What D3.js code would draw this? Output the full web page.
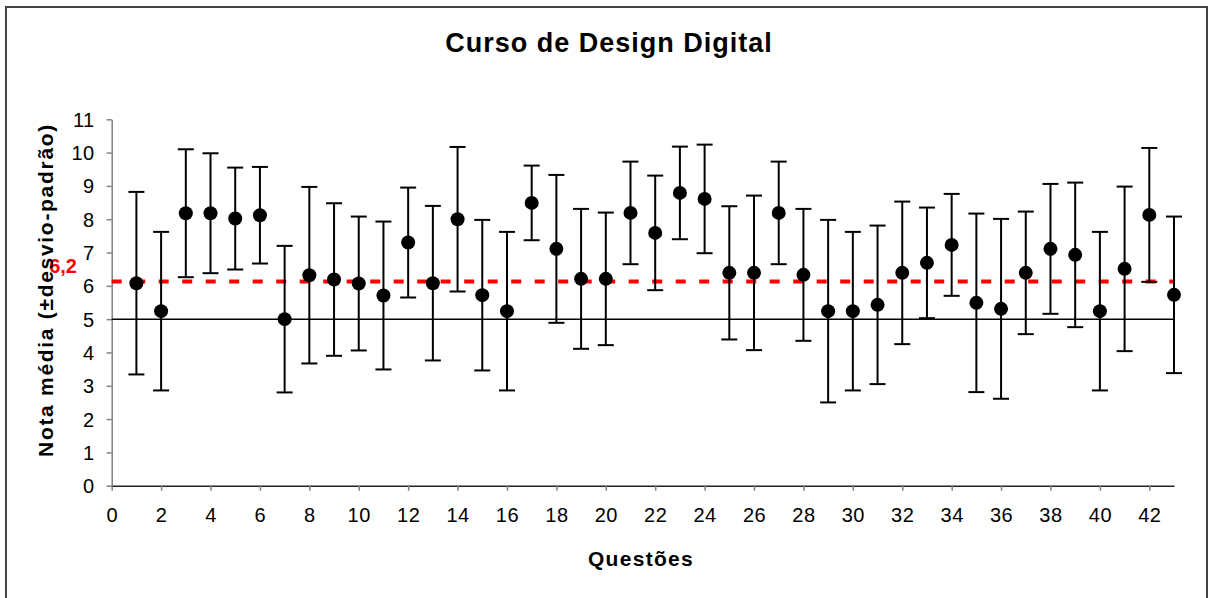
<!DOCTYPE html>
<html>
<head>
<meta charset="utf-8">
<script src="https://cdn.jsdelivr.net/npm/d3@7"></script>
<style>
body{margin:0;background:#fff;}
svg{display:block;font-family:"Liberation Sans",Arial,sans-serif;}
</style>
</head>
<body>
<svg width="1213" height="598"></svg>
<script>
// questões 1..43, nota média e desvio-padrão
var questoes=d3.range(1,44);
var media=[6.08,5.24,8.18,8.18,8.02,8.12,5.0,6.32,6.19,6.07,5.71,7.3,
  6.08,8.0,5.72,5.24,8.49,7.11,6.21,6.21,8.19,7.59,8.79,8.61,6.39,6.39,8.19,6.33,
  5.24,5.24,5.43,6.39,6.69,7.23,5.49,5.31,6.39,7.11,6.93,5.24,6.51,8.13,5.73];
var desvio=[2.74,2.38,1.92,1.8,1.53,1.45,2.2,2.65,2.29,2.01,2.22,1.65,
  2.32,2.17,2.26,2.38,1.12,2.22,2.1,1.99,1.54,1.72,1.39,1.63,2.0,2.32,1.54,1.98,
  2.74,2.38,2.38,2.14,1.66,1.53,2.68,2.7,1.84,1.95,2.17,2.38,2.47,2.01,2.35];
var xticks=d3.range(0,44,2);
var yticks=d3.range(0,12);
var mediaGeral=6.13, mediaLabel="6,2";
var notaMinima=5;

var svg=d3.select("svg");
var plotLeft=111.7,plotRight=1174,plotTop=119.3,plotBottom=485.7;

// moldura
svg.append("rect")
  .attr("x",6).attr("y",7).attr("width",1201).attr("height",600)
  .attr("fill","none").attr("stroke","#444").attr("stroke-width",2);

var scalex=d3.scaleLinear().domain([0,43]).range([plotLeft,plotRight]);
var scaley=d3.scaleLinear().domain([0,11]).range([plotBottom,plotTop]);

var xaxis=d3.axisBottom(scalex).tickValues(xticks).tickSize(5).tickSizeOuter(0).tickPadding(17);
var yaxis=d3.axisLeft(scaley).tickValues(yticks).tickSize(5).tickSizeOuter(0).tickPadding(12);

var gy=svg.append("g").attr("transform","translate("+plotLeft+",0)").call(yaxis);
gy.select(".domain").attr("stroke","#808080").attr("stroke-width",1.5);
gy.selectAll(".tick line").attr("stroke","#808080").attr("stroke-width",1.5);
gy.selectAll("text").style("font-size","20px").style("letter-spacing","0.5px").attr("fill","#000").attr("dy","0.35em");

var gx=svg.append("g").attr("transform","translate(0,"+plotBottom+")").call(xaxis);
gx.select(".domain").attr("stroke","#222").attr("stroke-width",1.5);
gx.selectAll(".tick line").attr("stroke","#808080").attr("stroke-width",1.5);
gx.selectAll("text").style("font-size","20px").style("letter-spacing","0.5px").attr("fill","#000");

// linha da nota 5
svg.append("line")
  .attr("x1",scalex(0)).attr("x2",scalex(43))
  .attr("y1",scaley(notaMinima)).attr("y2",scaley(notaMinima))
  .attr("stroke","#000").attr("stroke-width",1.5);

// média geral
svg.append("line")
  .attr("x1",scalex(0)).attr("x2",scalex(43))
  .attr("y1",scaley(mediaGeral)).attr("y2",scaley(mediaGeral))
  .attr("stroke","#ff0000").attr("stroke-width",4)
  .attr("stroke-dasharray","10,13.5");

svg.append("text")
  .attr("x",77).attr("y",273)
  .attr("text-anchor","end")
  .style("font-size","20px").style("font-weight","bold")
  .attr("fill","#ff0000")
  .text(mediaLabel);

var dados=questoes.map(function(q,i){return {q:q,m:media[i],s:desvio[i]};});

var barras=svg.append("g").selectAll("g").data(dados).enter().append("g");

barras.append("line")
  .attr("x1",d=>scalex(d.q)).attr("x2",d=>scalex(d.q))
  .attr("y1",d=>scaley(d.m+d.s)).attr("y2",d=>scaley(d.m-d.s))
  .attr("stroke","#000").attr("stroke-width",2);

barras.append("line")
  .attr("x1",d=>scalex(d.q)-8).attr("x2",d=>scalex(d.q)+8)
  .attr("y1",d=>scaley(d.m+d.s)).attr("y2",d=>scaley(d.m+d.s))
  .attr("stroke","#000").attr("stroke-width",2);

barras.append("line")
  .attr("x1",d=>scalex(d.q)-8).attr("x2",d=>scalex(d.q)+8)
  .attr("y1",d=>scaley(d.m-d.s)).attr("y2",d=>scaley(d.m-d.s))
  .attr("stroke","#000").attr("stroke-width",2);

barras.append("circle")
  .attr("cx",d=>scalex(d.q)).attr("cy",d=>scaley(d.m))
  .attr("r",7).attr("fill","#000");

// títulos
svg.append("text")
  .attr("x",609).attr("y",52)
  .attr("text-anchor","middle")
  .style("font-size","27px").style("font-weight","bold").style("letter-spacing","1px")
  .text("Curso de Design Digital");

svg.append("text")
  .attr("x",641).attr("y",566)
  .attr("text-anchor","middle")
  .style("font-size","21px").style("font-weight","bold").style("letter-spacing","1.3px")
  .text("Questões");

svg.append("text")
  .attr("transform","translate(53,"+((123+457)/2)+") rotate(-90)")
  .attr("text-anchor","middle")
  .style("font-size","21px").style("font-weight","bold").style("letter-spacing","1.7px")
  .text("Nota média (±desvio-padrão)");
</script>
</body>
</html>
